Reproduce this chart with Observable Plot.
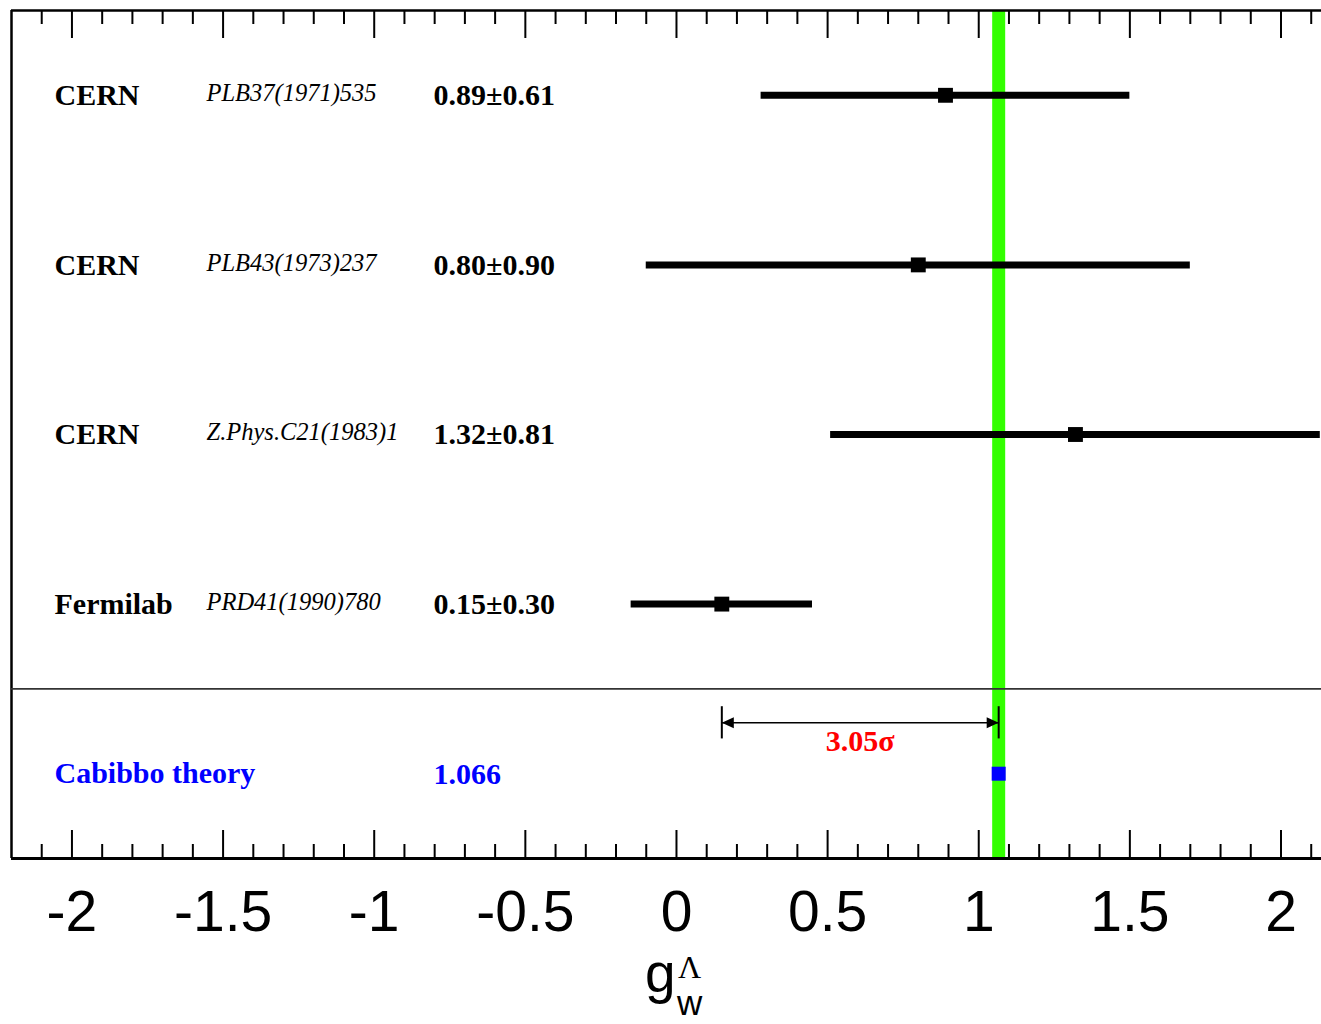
<!DOCTYPE html>
<html>
<head>
<meta charset="utf-8">
<script src="https://cdn.jsdelivr.net/npm/d3@7"></script>
<script src="https://cdn.jsdelivr.net/npm/@observablehq/plot@0.6"></script>
<style>
  html, body { margin: 0; padding: 0; background: white; overflow: hidden; }
  #chart svg { display: block; }
</style>
</head>
<body>
<div id="chart"></div>
<script>
// ---- data ----
const experiments = ["CERN", "CERN", "CERN", "Fermilab"];
const references = ["PLB37(1971)535", "PLB43(1973)237", "Z.Phys.C21(1983)1", "PRD41(1990)780"];
const values = [0.89, 0.80, 1.32, 0.15];
const errors = [0.61, 0.90, 0.81, 0.30];
const theoryLabel = "Cabibbo theory";
const theoryValue = 1.066;
const tensionFrom = 0.15;          // Fermilab value
const tensionSigma = errors[3];    // Fermilab error
const majorTicks = [-2, -1.5, -1, -0.5, 0, 0.5, 1, 1.5, 2];
const minorTicks = d3.range(-21, 22).filter(i => i % 5 !== 0).map(i => i / 10);
const xDomain = [-2.2, 2.134];

// ---- layout helpers ----
const rows = values.map((v, i) => ({
  row: i, exp: experiments[i], ref: references[i], v, e: errors[i],
  txt: `${v.toFixed(2)}±${errors[i].toFixed(2)}`
}));
const theoryRow = rows.length;
const arrowRow = theoryRow - 0.3;
const sepRow = theoryRow - 0.5;
const yDomain = [-0.5, theoryRow + 0.5];

const serif = "'Liberation Serif', 'Times New Roman', Times, serif";
const sans = "'Liberation Sans', Arial, Helvetica, sans-serif";

const leftArrow = { draw(ctx) { ctx.moveTo(0, 0); ctx.lineTo(12, -5.5); ctx.lineTo(12, 5.5); ctx.closePath(); } };
const rightArrow = { draw(ctx) { ctx.moveTo(0, 0); ctx.lineTo(-12, -5.5); ctx.lineTo(-12, 5.5); ctx.closePath(); } };

const sigmaText = ((theoryValue - tensionFrom) / tensionSigma).toFixed(2) + "σ";

const chart = Plot.plot({
  width: 1321,
  height: 1024,
  marginLeft: 11,
  marginRight: 0,
  marginTop: 10,
  marginBottom: 166,
  style: { background: "white", overflow: "visible" },
  x: { domain: xDomain },
  y: { domain: yDomain, reverse: true, axis: null },
  marks: [
    // theory band
    Plot.ruleX([theoryValue], { stroke: "#33ff00", strokeWidth: 13 }),
    // frame
    Plot.ruleX([xDomain[0]], { stroke: "black", strokeWidth: 2.5 }),
    Plot.ruleY([yDomain[0]], { stroke: "black", strokeWidth: 2.5 }),
    Plot.ruleY([yDomain[1]], { stroke: "black", strokeWidth: 3 }),
    Plot.ruleY([sepRow], { stroke: "#333", strokeWidth: 1.6 }),
    // ticks top & bottom
    Plot.ruleX(majorTicks, { insetBottom: 820, stroke: "black", strokeWidth: 2 }),
    Plot.ruleX(minorTicks, { insetBottom: 834, stroke: "black", strokeWidth: 2 }),
    Plot.ruleX(majorTicks, { insetTop: 820, stroke: "black", strokeWidth: 2 }),
    Plot.ruleX(minorTicks, { insetTop: 834, stroke: "black", strokeWidth: 2 }),
    // error bars and points
    Plot.ruleY(rows, { y: "row", x1: d => d.v - d.e, x2: d => d.v + d.e, stroke: "black", strokeWidth: 7 }),
    Plot.dot(rows, { x: "v", y: "row", symbol: "square", r: 8.4, fill: "black", stroke: null }),
    Plot.dot([theoryValue], { x: d => d, y: () => theoryRow, symbol: "square", r: 7.9, fill: "#0000ff", stroke: null }),
    // tension arrow
    Plot.ruleY([arrowRow], { x1: () => tensionFrom, x2: () => theoryValue, stroke: "black", strokeWidth: 1.5 }),
    Plot.ruleX([tensionFrom, theoryValue], { y1: () => arrowRow - 0.095, y2: () => arrowRow + 0.095, stroke: "black", strokeWidth: 2 }),
    Plot.dot([tensionFrom], { x: d => d, y: () => arrowRow, symbol: leftArrow, fill: "black", stroke: null }),
    Plot.dot([theoryValue], { x: d => d, y: () => arrowRow, symbol: rightArrow, fill: "black", stroke: null }),
    Plot.text([sigmaText], { x: () => (tensionFrom + theoryValue) / 2, y: () => arrowRow, text: d => d, dy: 19,
      fill: "#ff0000", fontFamily: serif, fontWeight: "bold", fontSize: 30, textAnchor: "middle" }),
    // text columns
    Plot.text(rows, { y: "row", text: "exp", frameAnchor: "left", dx: 43, textAnchor: "start",
      fontFamily: serif, fontWeight: "bold", fontSize: 30, fill: "black" }),
    Plot.text(rows, { y: "row", text: "ref", frameAnchor: "left", dx: 195, dy: -2, textAnchor: "start",
      fontFamily: serif, fontStyle: "italic", fontSize: 24.5, fill: "black" }),
    Plot.text(rows, { y: "row", text: "txt", frameAnchor: "left", dx: 422, textAnchor: "start",
      fontFamily: serif, fontWeight: "bold", fontSize: 30, fill: "black" }),
    Plot.text([theoryLabel], { y: () => theoryRow, text: d => d, frameAnchor: "left", dx: 43, textAnchor: "start",
      fontFamily: serif, fontWeight: "bold", fontSize: 30, fill: "#0000ff" }),
    Plot.text([theoryValue], { y: () => theoryRow, text: d => String(d), frameAnchor: "left", dx: 422, dy: 1, textAnchor: "start",
      fontFamily: serif, fontWeight: "bold", fontSize: 30, fill: "#0000ff" }),
    // bottom tick labels
    Plot.axisX(majorTicks, { anchor: "bottom", tickSize: 0, tickPadding: 32, fontSize: 57,
      fontFamily: sans, tickFormat: d => String(d), label: null, fill: "black" })
  ]
});

// axis title g_w^Λ
const x0 = chart.scale("x").apply(0);
const svg = d3.select(chart);
const title = svg.append("g").attr("fill", "black").attr("text-anchor", "start");
title.append("text").attr("x", x0 - 31).attr("y", 992)
  .attr("font-family", sans).attr("font-size", 55).text("g");
title.append("text").attr("x", x0 + 2).attr("y", 978)
  .attr("font-family", serif).attr("font-size", 32).text("Λ");
title.append("text").attr("x", x0 + 1).attr("y", 1015)
  .attr("font-family", sans).attr("font-size", 35).text("w");

document.getElementById("chart").appendChild(chart);
</script>
</body>
</html>
